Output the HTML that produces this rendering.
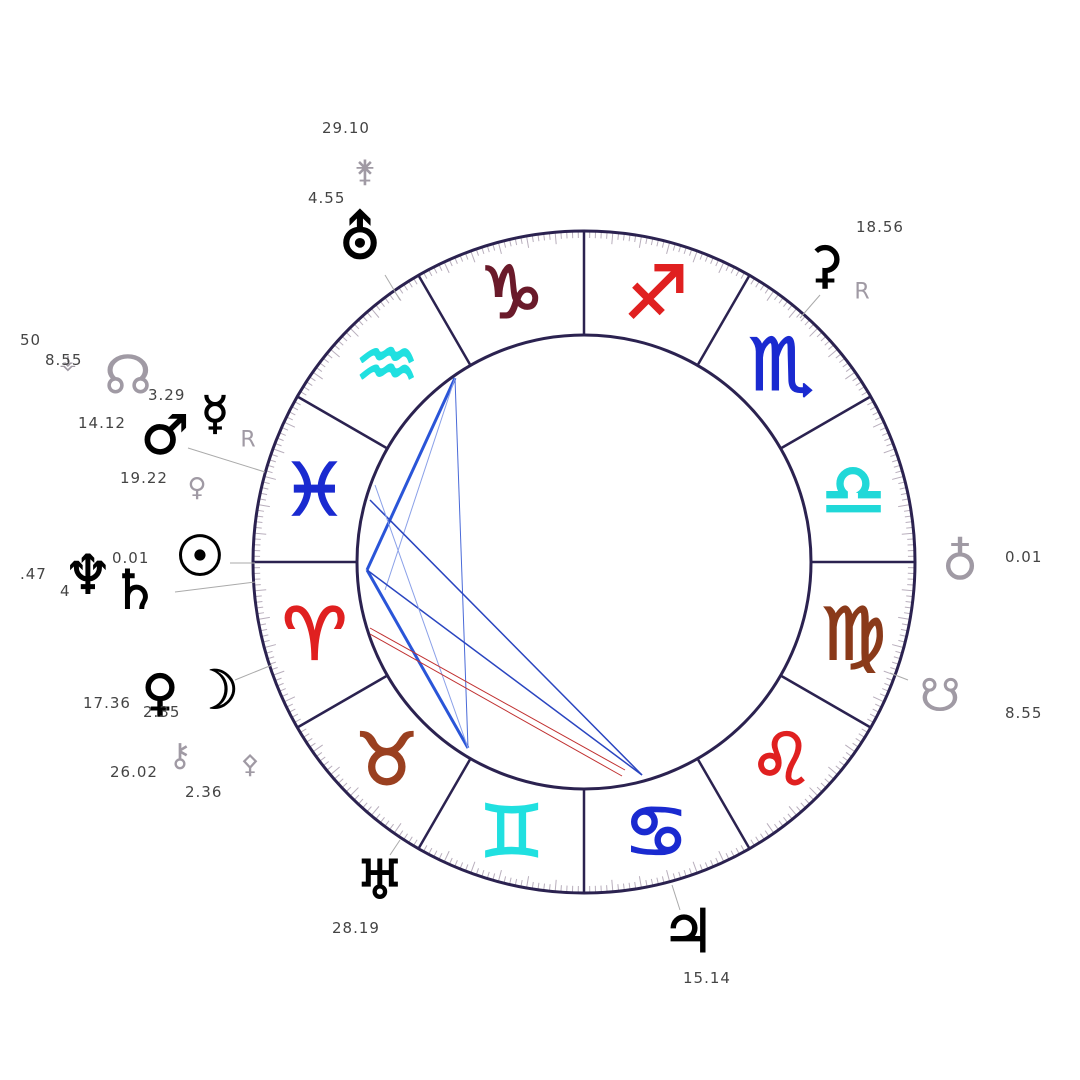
<!DOCTYPE html>
<html><head><meta charset="utf-8"><style>
html,body{margin:0;padding:0;background:#fff;width:1080px;height:1080px;overflow:hidden}
svg text{font-family:"DejaVu Sans","Liberation Sans",sans-serif}
</style></head><body>
<svg id="s" width="1080" height="1080" viewBox="0 0 1080 1080" xmlns="http://www.w3.org/2000/svg">
<g id="ticks" stroke="#b8aebc" stroke-width="1"></g>
<circle cx="584" cy="562" r="331" fill="none" stroke="#2b2250" stroke-width="3"/>
<circle cx="584" cy="562" r="227" fill="none" stroke="#2b2250" stroke-width="3"/>
<g id="div" stroke="#2b2250" stroke-width="2.5"></g>
<g id="signs" font-size="72" text-anchor="middle" dominant-baseline="central" stroke-width="2"></g>
<g fill="none">
<line x1="455" y1="378" x2="367" y2="570" stroke="#2a55d8" stroke-width="3"/>
<line x1="367" y1="570" x2="468" y2="748" stroke="#2a55d8" stroke-width="3"/>
<line x1="455" y1="378" x2="468" y2="748" stroke="#4a6ad8" stroke-width="1"/>
<line x1="455" y1="378" x2="385" y2="590" stroke="#8aa0e8" stroke-width="1"/>
<line x1="367" y1="570" x2="642" y2="775" stroke="#2a45c0" stroke-width="1.5"/>
<line x1="370" y1="500" x2="642" y2="775" stroke="#2a45c0" stroke-width="1.5"/>
<line x1="375" y1="485" x2="468" y2="748" stroke="#8aa0e8" stroke-width="1"/>
<line x1="370" y1="628" x2="625" y2="770" stroke="#c03030" stroke-width="1"/>
<line x1="370" y1="634" x2="622" y2="776" stroke="#c03030" stroke-width="1"/>
</g>
<g stroke="#aaa" stroke-width="1">
<line x1="385" y1="275" x2="400" y2="300"/>
<line x1="820" y1="295" x2="800" y2="318"/>
<line x1="188" y1="448" x2="265" y2="472"/>
<line x1="230" y1="563" x2="255" y2="563"/>
<line x1="175" y1="592" x2="255" y2="582"/>
<line x1="235" y1="680" x2="272" y2="665"/>
<line x1="908" y1="680" x2="890" y2="673"/>
<line x1="680" y1="910" x2="672" y2="885"/>
<line x1="390" y1="855" x2="400" y2="840"/>
</g>
<g fill="#000" stroke="#000" stroke-width="1" text-anchor="middle" dominant-baseline="central">
<text x="360" y="238" font-size="58">⛢</text>
<text x="825" y="265" font-size="50">⚳</text>
<text x="688" y="932" font-size="60">♃</text>
<text x="380" y="880" font-size="54">♅</text>
<text x="165" y="435" font-size="54">♂</text>
<text x="215" y="413" font-size="46">☿</text>
<text x="200" y="557" font-size="56">☉</text>
<text x="88" y="575" font-size="54">♆</text>
<text x="135" y="590" font-size="54">♄</text>
<text x="160" y="693" font-size="50">♀</text>
<text x="215" y="690" font-size="54">☽</text>
</g>
<g fill="#a09aa4" text-anchor="middle" dominant-baseline="central">
<text x="365" y="172" font-size="30">⚵</text>
<text x="862" y="292" font-size="22">R</text>
<text x="960" y="562" font-size="50">♁</text>
<text x="940" y="695" font-size="46">☋</text>
<text x="128" y="375" font-size="54">☊</text>
<text x="68" y="362" font-size="20">⚶</text>
<text x="248" y="440" font-size="22">R</text>
<text x="197" y="488" font-size="26">♀</text>
<text x="180" y="755" font-size="32">⚷</text>
<text x="250" y="765" font-size="26">⚴</text>
</g>
<g fill="#444" font-size="15" font-family="Liberation Sans,sans-serif" letter-spacing="1">
<text x="322" y="133">29.10</text>
<text x="308" y="203">4.55</text>
<text x="856" y="232">18.56</text>
<text x="1005" y="562">0.01</text>
<text x="1005" y="718">8.55</text>
<text x="683" y="983">15.14</text>
<text x="332" y="933">28.19</text>
<text x="20" y="345">50</text>
<text x="45" y="365">8.55</text>
<text x="78" y="428">14.12</text>
<text x="148" y="400">3.29</text>
<text x="120" y="483">19.22</text>
<text x="112" y="563">0.01</text>
<text x="20" y="579">.47</text>
<text x="60" y="596">4</text>
<text x="83" y="708">17.36</text>
<text x="143" y="717">2.35</text>
<text x="110" y="777">26.02</text>
<text x="185" y="797">2.36</text>
</g>
</svg>
<script>
var cx=584,cy=562,R=331,r=227,ns="http://www.w3.org/2000/svg";
function el(p,t,a){var e=document.createElementNS(ns,t);for(var k in a)e.setAttribute(k,a[k]);p.appendChild(e);return e;}
var tk=document.getElementById('ticks');
for(var d=0;d<360;d++){var a=d*Math.PI/180,l=(d%5==0)?12:7;
el(tk,'line',{x1:cx+(R-1)*Math.cos(a),y1:cy-(R-1)*Math.sin(a),x2:cx+(R-l)*Math.cos(a),y2:cy-(R-l)*Math.sin(a)});}
var dv=document.getElementById('div');
for(var d=0;d<360;d+=30){var a=d*Math.PI/180;
el(dv,'line',{x1:cx+r*Math.cos(a),y1:cy-r*Math.sin(a),x2:cx+R*Math.cos(a),y2:cy-R*Math.sin(a)});}
var sg=[["♈","#e02020",195],["♓","#1a2ad0",165],["♒","#20e0e0",135],["♑","#6a1a2a",105],["♐","#e02020",75],["♏","#1a2ad0",45],["♎","#20d8d8",15],["♍","#8a3a1a",-15],["♌","#e02020",-45],["♋","#1a2ad0",-75],["♊","#20e0e0",-105],["♉","#9a4020",-135]];
var g=document.getElementById('signs');
sg.forEach(function(s){var a=s[2]*Math.PI/180,t=el(g,'text',{x:cx+279*Math.cos(a),y:cy-279*Math.sin(a),fill:s[1],stroke:s[1]});t.textContent=s[0]+"\uFE0E";});
</script>
</body></html>
